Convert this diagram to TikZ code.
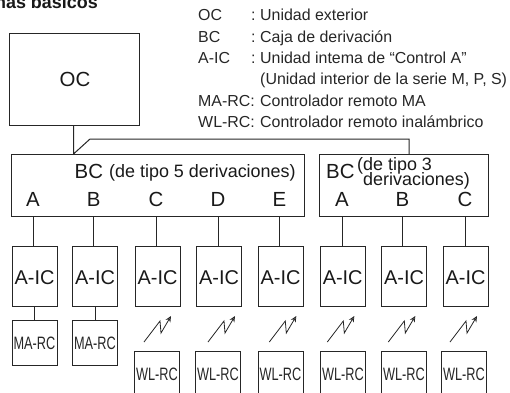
\documentclass[tikz,border=0pt]{standalone}
\usepackage{fontspec}
\setmainfont{Liberation Sans}
\usetikzlibrary{calc,arrows.meta}
\begin{document}
\begin{tikzpicture}[x=1bp,y=-1bp,
  box/.style={draw=black!85,line width=1bp,inner sep=0pt,anchor=north west},
  wire/.style={draw=black!85,line width=1bp},
  bolt/.style={draw=black!85,line width=0.8bp,-{Stealth[open,length=6bp,width=5.5bp]}},
  key/.style={anchor=base west,font=\fontsize{16}{16}\selectfont,inner sep=0pt,text=black!85},
  big/.style={font=\fontsize{20.5}{20}\selectfont,inner sep=0pt,text=black!90},
  mid/.style={font=\fontsize{20}{20}\selectfont,inner sep=0pt,text=black!90},
  sub/.style={anchor=base west,inner sep=0pt,font=\fontsize{18}{18}\selectfont,text=black!90},
  small/.style={font=\fontsize{18}{18}\selectfont,inner sep=0pt,text=black!85,xscale=0.71}]
\useasboundingbox (0,0) rectangle (510,392);
\clip (0,0) rectangle (510,392);
\node[anchor=base east,inner sep=0pt,font=\fontsize{18}{18}\bfseries\selectfont,text=black!90] (title) at (98,8.5) {mas básicos};
% key
\foreach \n/\k/\v/\y in {k1/OC/Unidad exterior/20.7,k2/BC/Caja de derivación/42.7,k3/A-IC/Unidad intema de “Control A”/63.3}{
  \node[key] (\n a) at (198,\y) {\k};
  \node[key] (\n b) at (251,\y) {:};
  \node[key] (\n c) at (260,\y) {\v};}
\node[key] (k4c) at (260,84) {(Unidad interior de la serie M, P, S)};
\node[key] (k5a) at (198,106.7) {MA-RC:};
\node[key] (k5c) at (260,106.7) {Controlador remoto MA};
\node[key] (k6a) at (198,127.7) {WL-RC:};
\node[key] (k6c) at (260,127.7) {Controlador remoto inalámbrico};
% main boxes
\node[box,minimum width=130bp,minimum height=92bp] (oc) at (9,32.5) {};
\node[big] (oct) at (75,79) {OC};
\node[box,minimum width=293.5bp,minimum height=62bp] (bc1) at (10.5,154) {};
\node[box,minimum width=169.5bp,minimum height=62bp] (bc2) at (318.5,154) {};
\node[big,anchor=base west] (bc1t) at (74.5,178) {BC};
\node[sub] (bc1s) at (109,177) {(de tipo 5 derivaciones)};
\node[big,anchor=base west] (bc2t) at (326,178) {BC};
\node[sub] (bc2s) at (357,170.5) {(de tipo 3};
\node[sub] (bc2u) at (363,185) {derivaciones)};
% OC connection
\coordinate (j) at (73.5,154);
\coordinate (t1) at (90,139);
\coordinate (t2) at (409,139);
\draw[wire] (j |- oc.south) -- (j) -- (t1) -- (t2) -- (t2 |- bc2.north);
% columns
\foreach \i/\l/\ax/\lx/\pb in {1/A/11.5/33/bc1,2/B/72/93.7/bc1,3/C/134.5/156/bc1,4/D/196/218/bc1,5/E/257.5/279.5/bc1,6/A/319.7/342/bc2,7/B/381/402.5/bc2,8/C/442.5/465/bc2}{
  \node[big,anchor=base] (lab\i) at (\lx,206.5) {\l};
  \node[box,minimum width=45bp,minimum height=59.6bp] (ic\i) at (\ax,246) {};
  \node[mid,yshift=-1.5bp] (ict\i) at (ic\i) {A-IC};
  \draw[wire] (lab\i |- \pb.south) -- (lab\i |- ic\i.north);
}
\foreach \i in {1,2}{
  \node[box,minimum width=45bp,minimum height=45bp] (ma\i) at (ic\i.south west |- 0,320) {};
  \node[small] (mat\i) at (ma\i) {MA-RC};
  \draw[wire] (ic\i.south) -- (ma\i.north);
}
\foreach \i/\wx in {3/134,4/195,5/257.5,6/320,7/381,8/441}{
  \node[box,minimum width=45bp,minimum height=60bp] (wl\i) at (\wx,351) {};
  \node[small] (wlt\i) at ($(\wx,351)+(23,23)$) {WL-RC};
}
\foreach \bx in {144,208,269.3,327.3,388.3,450}{
  \coordinate (b0) at (\bx,342);
  \coordinate (b1) at (\bx+16,321);
  \coordinate (b2) at (\bx+17,333);
  \coordinate (b3) at (\bx+27,316);
  \draw[bolt] (b0) -- (b1) -- (b2) -- (b3);
}
\end{tikzpicture}
\end{document}
